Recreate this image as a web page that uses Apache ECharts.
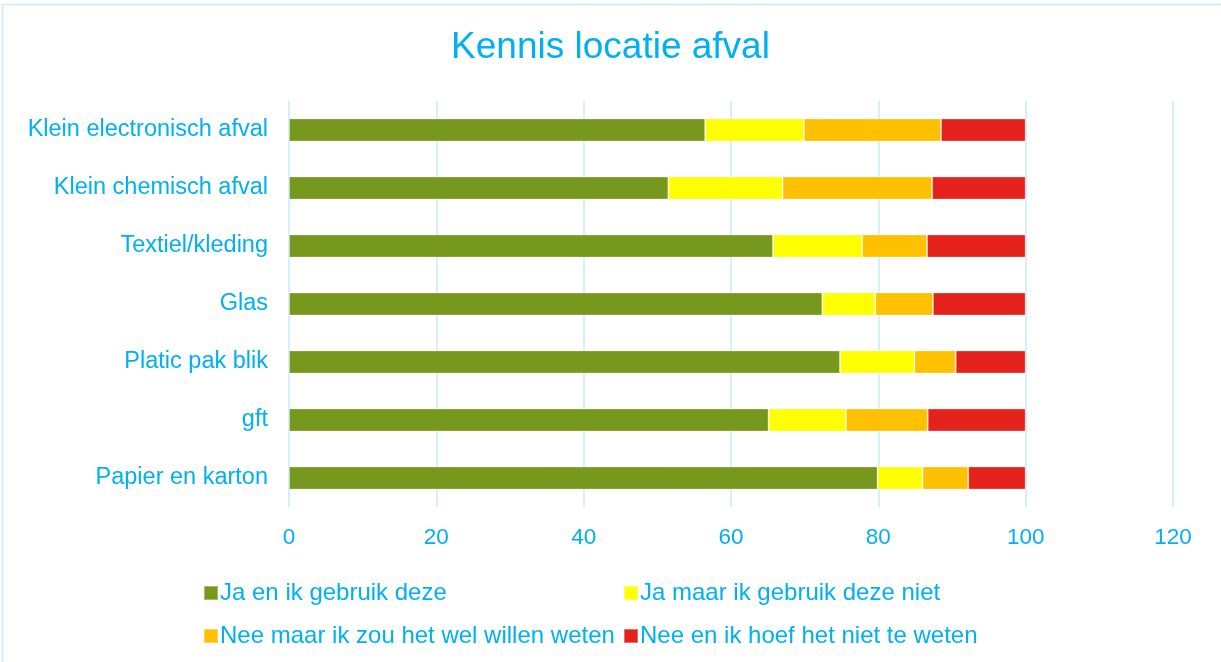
<!DOCTYPE html>
<html>
<head>
<meta charset="utf-8">
<script src="https://cdn.jsdelivr.net/npm/echarts@6/dist/echarts.min.js"></script>
<style>
  html, body { margin: 0; padding: 0; background: #fff; }
  #chart { width: 1221px; height: 662px; }
</style>
</head>
<body>
<div id="chart"></div>
<script>
// Waste types, bottom to top on the category axis
const categories = [
  'Papier en karton',
  'gft',
  'Platic pak blik',
  'Glas',
  'Textiel/kleding',
  'Klein chemisch afval',
  'Klein electronisch afval'
];

const seriesNames = [
  'Ja en ik gebruik deze',
  'Ja maar ik gebruik deze niet',
  'Nee maar ik zou het wel willen weten',
  'Nee en ik hoef het niet te weten'
];

// Percentages per answer, same order as categories
const jaGebruik     = [79.9, 65.1, 74.8, 72.4, 65.7, 51.5, 56.5];
const jaNietGebruik = [6.1, 10.5, 10.1, 7.2, 12.1, 15.5, 13.4];
const neeWelWeten   = [6.2, 11.1, 5.6, 7.8, 8.8, 20.3, 18.6];
const neeNietWeten  = [7.8, 13.3, 9.5, 12.6, 13.4, 12.7, 11.5];

const xTicks = { min: 0, max: 120, interval: 20 };

const colors = ['#76981c', '#ffff00', '#ffc000', '#e4211a'];
const textColor = '#00b0f0';
const gridColor = '#c9ebfa';
const font = 'Liberation Sans, Arial, sans-serif';

const seriesData = [jaGebruik, jaNietGebruik, neeWelWeten, neeNietWeten];

const chart = echarts.init(document.getElementById('chart'), null, { renderer: 'canvas' });

// Two-column legend: one legend component per entry
const legendPos = [
  { left: 198, top: 576 },
  { left: 618, top: 576 },
  { left: 198, top: 619 },
  { left: 618, top: 619 }
];

chart.setOption({
  animation: false,
  backgroundColor: '#ffffff',
  textStyle: { fontFamily: font },
  title: {
    text: 'Kennis locatie afval',
    left: 'center',
    top: 24,
    textStyle: {
      color: textColor,
      fontSize: 37,
      fontWeight: 'normal',
      fontFamily: font
    }
  },
  graphic: [{
    type: 'rect',
    shape: { x: 2.5, y: 4.5, width: 1220, height: 660 },
    style: { fill: 'none', stroke: '#c9ebfa', lineWidth: 1.5 },
    silent: true,
    z: -1
  }],
  legend: seriesNames.map((name, i) => ({
    data: [name],
    left: legendPos[i].left,
    top: legendPos[i].top,
    icon: 'rect',
    itemWidth: 14,
    itemHeight: 14,
    itemGap: 4,
    textStyle: {
      color: textColor,
      fontSize: 24,
      padding: [0, 0, 0, -3],
      fontFamily: font
    },
    selectedMode: false
  })),
  grid: {
    left: 289,
    width: 884,
    top: 101,
    height: 406,
    containLabel: false
  },
  xAxis: {
    type: 'value',
    min: xTicks.min,
    max: xTicks.max,
    interval: xTicks.interval,
    axisLine: { show: false },
    axisTick: { show: false },
    axisLabel: {
      color: textColor,
      fontSize: 22.5,
      margin: 19,
      fontFamily: font
    },
    splitLine: { show: true, lineStyle: { color: gridColor, width: 1.5 } }
  },
  yAxis: {
    type: 'category',
    data: categories,
    axisLine: { show: false },
    axisTick: { show: false },
    axisLabel: {
      color: textColor,
      fontSize: 23.5,
      margin: 21,
      fontFamily: font
    }
  },
  series: seriesNames.map((name, i) => ({
    name: name,
    type: 'bar',
    stack: 'total',
    barWidth: '40%',
    data: seriesData[i],
    itemStyle: {
      color: colors[i],
      borderColor: 'rgba(255,255,255,0.35)',
      borderWidth: 1
    }
  }))
});
</script>
</body>
</html>
